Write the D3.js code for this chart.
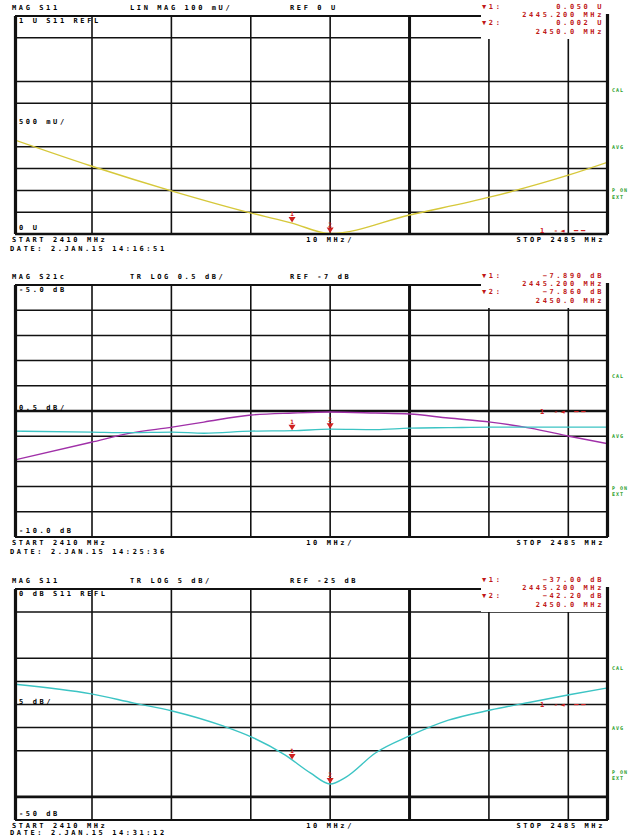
<!DOCTYPE html>
<html>
<head>
<meta charset="utf-8">
<script src="https://cdn.jsdelivr.net/npm/d3@7/dist/d3.min.js"></script>
<style>
body { margin: 0; background: #fff; }
text { font-family: "DejaVu Sans Mono", monospace; font-size: 7px; font-weight: bold; letter-spacing: 2.6px; }
</style>
</head>
<body>
<div id="chart"></div>
<script>
// sweep + grid (MHz)
const freqStart = 2410.3, freqStop = 2485
const gridFreqs = [2420, 2430, 2440, 2450, 2460, 2470, 2480]
const markerFreqs = [2445.2, 2450]

// panel 1: S11 lin mag (U)
const s11LinFreqs = [2410.3, 2419.9, 2430.1, 2440.05, 2445.2, 2450, 2460, 2470.2, 2480.1, 2485]
const s11Lin = [0.431, 0.312, 0.197, 0.096, 0.050, 0.002, 0.087, 0.170, 0.271, 0.330]

// panel 2: two traces (dB)
const s21Freqs = [2410.3, 2419.9, 2424.8, 2430.1, 2434.1, 2440.05, 2445.3, 2450, 2455.7, 2460, 2464.9, 2470.2, 2475.2, 2480.1, 2485]
const s21Mag = [-8.47, -8.12, -7.94, -7.82, -7.72, -7.58, -7.54, -7.52, -7.54, -7.56, -7.64, -7.72, -7.84, -8.00, -8.15]
const s21Ref = [-7.90, -7.92, -7.93, -7.92, -7.94, -7.90, -7.89, -7.86, -7.87, -7.84, -7.83, -7.82, -7.82, -7.82, -7.82]

// panel 3: S11 log mag (dB)
const s11LogFreqs = [2410.3, 2419.9, 2425.3, 2430.1, 2436.6, 2440.05, 2444.3, 2447.5, 2450, 2452, 2455.7, 2460, 2464.9, 2470.2, 2475.2, 2480.1, 2485]
const s11Log = [-20.6, -22.7, -24.7, -26.4, -29.7, -32.0, -35.9, -39.8, -42.2, -40.7, -35.5, -31.8, -28.4, -26.2, -24.5, -22.9, -21.4]

const panels = [
    {
        top: 16, bottom: 234, domain: [0, 1], step: 0.1, hidden: [0.8, 0.5], thick: [0],
        traces: [{ f: s11LinFreqs, v: s11Lin, color: "#d6c83a" }], markerTrace: 0, unit: "U", digits: 3,
        header: ["MAG S11", "LIN MAG 100 mU/", "REF 0 U"],
        inTop: "1 U   S11 REFL", inRef: "500 mU/", refValue: 0.5, inBottom: "0 U", refMarkAt: 0.015,
        date: "DATE:    2.JAN.15  14:16:51",
        side: [[0.66, "CAL"], [0.40, "AVG"], [0.2, "P ON"], [0.17, "EXT"]]
    },
    {
        top: 285, bottom: 537, domain: [-10, -5], step: 0.5, hidden: [], thick: [-7.5],
        traces: [{ f: s21Freqs, v: s21Mag, color: "#a030a8" }, { f: s21Freqs, v: s21Ref, color: "#3cc4c4" }], markerTrace: 1, unit: "dB", digits: 3,
        header: ["MAG S21c", "TR  LOG 0.5 dB/", "REF -7 dB"],
        inTop: "-5.0 dB", inRef: "0.5 dB/", refValue: -7.5, inBottom: "-10.0 dB", refMarkAt: -7.5,
        date: "DATE:    2.JAN.15  14:25:36",
        side: [[-6.8, "CAL"], [-8.0, "AVG"], [-9.03, "P ON"], [-9.15, "EXT"]]
    },
    {
        top: 589, bottom: 820, domain: [-50, 0], step: 5, hidden: [-10, -40], thick: [-45],
        traces: [{ f: s11LogFreqs, v: s11Log, color: "#3cc4c4" }], markerTrace: 0, unit: "dB", digits: 2,
        header: ["MAG S11", "TR  LOG 5 dB/", "REF -25 dB"],
        inTop: "0 dB   S11 REFL", inRef: "5 dB/", refValue: -25, inBottom: "-50 dB", refMarkAt: -25,
        date: "DATE:    2.JAN.15  14:31:12",
        side: [[-17, "CAL"], [-30, "AVG"], [-39.6, "P ON"], [-40.9, "EXT"]]
    }
]

buildChart()

function valueAt(fs, vs, f) {
    let i = Math.max(1, Math.min(fs.length - 1, d3.bisectLeft(fs, f)))
    let t = (f - fs[i - 1]) / (fs[i] - fs[i - 1])
    return vs[i - 1] + t * (vs[i] - vs[i - 1])
}

function buildChart() {
    let svg = d3.select("#chart").append("svg")
        .attr("width", 638).attr("height", 837)

    let x = d3.scaleLinear().domain([freqStart, freqStop]).range([15, 608])

    panels.forEach((p, pi) => {
        let y = d3.scaleLinear().domain(p.domain).range([p.bottom, p.top])
        let g = svg.append("g")

        // horizontal grid
        let rows = d3.range(p.domain[0], p.domain[1] + p.step / 2, p.step)
            .filter(v => !p.hidden.some(h => Math.abs(h - v) < 1e-6))
        g.selectAll(".hgrid").data(rows).enter().append("line")
            .attr("x1", 15).attr("x2", 608)
            .attr("y1", d => y(d)).attr("y2", d => y(d))
            .attr("stroke", "#111")
            .attr("stroke-width", d => p.thick.some(t => Math.abs(t - d) < 1e-6) ? 2.6 : 1.5)

        // vertical grid
        g.selectAll(".vgrid").data(gridFreqs).enter().append("line")
            .attr("x1", d => x(d)).attr("x2", d => x(d))
            .attr("y1", p.top).attr("y2", p.bottom)
            .attr("stroke", "#111")
            .attr("stroke-width", d => d == 2460 ? 3 : 1.6)

        // traces
        let clipId = "clip" + pi
        svg.append("clipPath").attr("id", clipId).append("rect")
            .attr("x", 15).attr("y", p.top - 2).attr("width", 593).attr("height", p.bottom - p.top + 4)
        p.traces.forEach(t => {
            let line = d3.line().x((d, i) => x(t.f[i])).y(d => y(d)).curve(d3.curveMonotoneX)
            g.append("path").datum(t.v)
                .attr("d", line)
                .attr("fill", "none")
                .attr("stroke", t.color)
                .attr("stroke-width", 1.4)
                .attr("clip-path", `url(#${clipId})`)
        })

        // markers
        let mt = p.traces[p.markerTrace]
        markerFreqs.forEach((f, i) => {
            let px = x(f), py = y(valueAt(mt.f, mt.v, f))
            g.append("path")
                .attr("d", `M${px - 3.5},${py - 6}L${px + 3.5},${py - 6}L${px},${py - 0.5}Z`)
                .attr("fill", "#d02020")
            g.append("text").attr("x", px).attr("y", py - 7)
                .attr("text-anchor", "middle").attr("fill", "#d02020")
                .style("letter-spacing", "0px").style("font-size", "6px")
                .text(i + 1)
        })

        // frame
        g.append("line").attr("x1", 15).attr("x2", 608).attr("y1", p.top).attr("y2", p.top)
            .attr("stroke", "#111").attr("stroke-width", 1.8)
        g.append("line").attr("x1", 15).attr("x2", 608).attr("y1", p.bottom).attr("y2", p.bottom)
            .attr("stroke", "#111").attr("stroke-width", 2.2)

        // marker readout box
        g.append("rect").attr("x", 481).attr("y", p.top - 16).attr("width", 126).attr("height", 39)
            .attr("fill", "#fff")
        g.append("line").attr("x1", 15.5).attr("x2", 15.5).attr("y1", p.top).attr("y2", p.bottom)
            .attr("stroke", "#111").attr("stroke-width", 3.2)
        g.append("line").attr("x1", 607.5).attr("x2", 607.5).attr("y1", p.top - 2).attr("y2", p.bottom)
            .attr("stroke", "#111").attr("stroke-width", 3.2)

        let readout = []
        markerFreqs.forEach((f, i) => {
            let v = valueAt(mt.f, mt.v, f)
            readout.push(["\u25BC" + (i + 1) + ":", d3.format(`.${p.digits}f`)(v) + " " + p.unit])
            readout.push(["", (i == 0 ? d3.format(".3f")(f) : d3.format(".1f")(f)) + " MHz"])
        })
        readout.forEach((r, i) => {
            let ry = p.top - 7 + i * 8.2
            if (r[0]) g.append("text").attr("x", 482).attr("y", ry).attr("fill", "#c01818").text(r[0])
            g.append("text").attr("x", 604).attr("y", ry).attr("text-anchor", "end")
                .attr("fill", "#c01818").text(r[1])
        })

        // header
        let hy = p.top - 6
        g.append("text").attr("x", 12).attr("y", hy).text(p.header[0])
        g.append("text").attr("x", 130).attr("y", hy).text(p.header[1])
        g.append("text").attr("x", 290).attr("y", hy).text(p.header[2])

        // inside labels
        g.append("text").attr("x", 19).attr("y", p.top + 7).text(p.inTop)
        g.append("text").attr("x", 19).attr("y", y(p.refValue) - 1).text(p.inRef)
        g.append("text").attr("x", 19).attr("y", p.bottom - 4).text(p.inBottom)

        // reference indicator
        g.append("text").attr("x", 540).attr("y", y(p.refMarkAt) + 2.5)
            .attr("fill", "#d02020").text("1 -\u25C4 \u2501\u2501")

        // side labels
        p.side.forEach(s => {
            g.append("text").attr("x", 612).attr("y", y(s[0]) + 2)
                .attr("fill", "#2ca02c").style("letter-spacing", "1px").style("font-size", "5px")
                .text(s[1])
        })

        // sweep labels
        let by = p.bottom + 8
        g.append("text").attr("x", 12).attr("y", by).text("START 2410 MHz")
        g.append("text").attr("x", x(2450)).attr("y", by).attr("text-anchor", "middle").text("10 MHz/")
        g.append("text").attr("x", 605).attr("y", by).attr("text-anchor", "end").text("STOP 2485 MHz")
        g.append("text").attr("x", 10).attr("y", Math.min(p.bottom + 17, 835)).text(p.date)
    })
}
</script>
</body>
</html>
